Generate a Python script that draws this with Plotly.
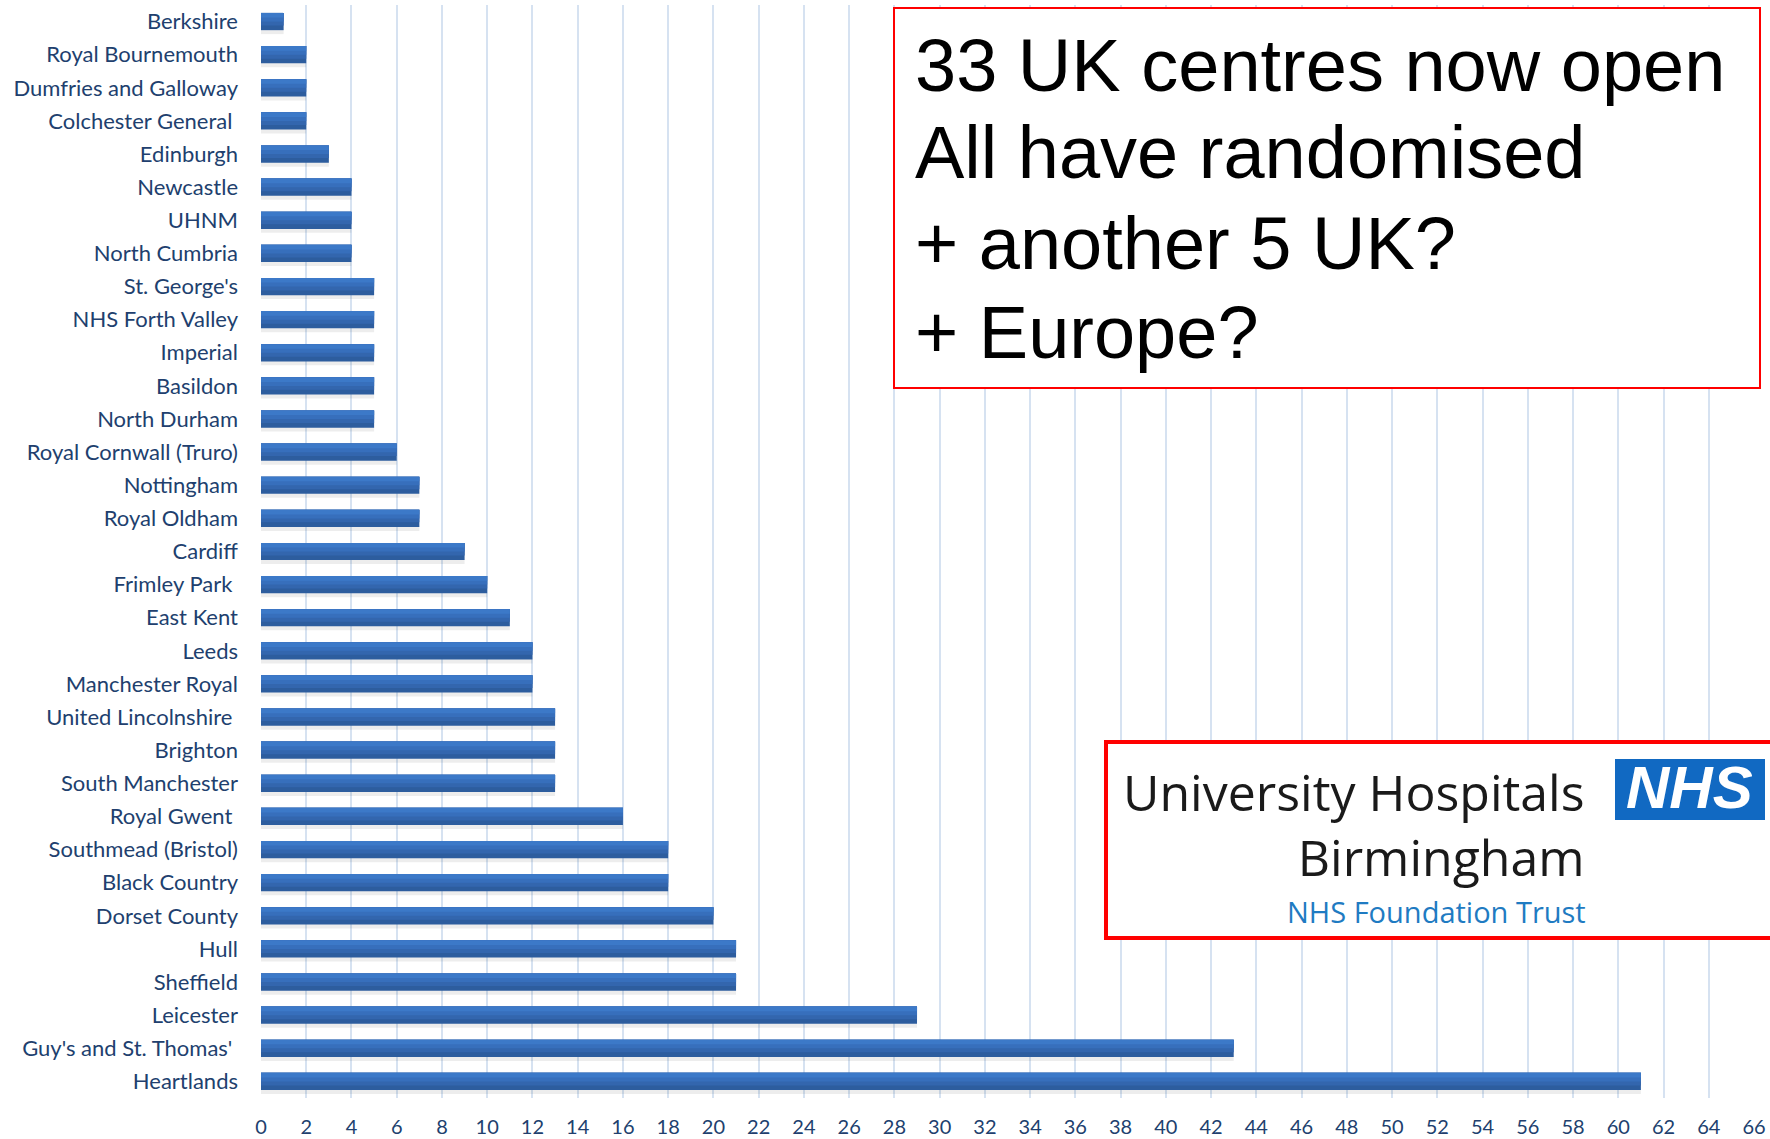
import plotly.graph_objects as go

# ---------------- data ----------------
centres = [
    "Berkshire", "Royal Bournemouth", "Dumfries and Galloway", "Colchester General\u00a0",
    "Edinburgh", "Newcastle", "UHNM", "North Cumbria", "St. George's", "NHS Forth Valley",
    "Imperial", "Basildon", "North Durham", "Royal Cornwall (Truro)", "Nottingham",
    "Royal Oldham", "Cardiff", "Frimley Park\u00a0", "East Kent", "Leeds", "Manchester Royal",
    "United Lincolnshire\u00a0", "Brighton", "South Manchester", "Royal Gwent\u00a0",
    "Southmead (Bristol)", "Black Country", "Dorset County", "Hull", "Sheffield",
    "Leicester", "Guy's and St. Thomas'\u00a0", "Heartlands",
]
randomised = [1, 2, 2, 2, 3, 4, 4, 4, 5, 5, 5, 5, 5, 6, 7, 7, 9, 10, 11, 12, 12,
              13, 13, 13, 16, 18, 18, 20, 21, 21, 29, 43, 61]
x_ticks = list(range(0, 67, 2))

headline_lines = ["33 UK centres now open", "All have randomised",
                  "+ another 5 UK?", "+ Europe?"]
logo_title = ["University Hospitals", "Birmingham"]
logo_sub = "NHS Foundation Trust"
logo_mark = "NHS"

# ---------------- layout helpers ----------------
W, H = 1770, 1139
L, R, T, B = 261, 16, 5, 41


def px(x):
    return (x - L) / (W - L - R)


def py(y):
    return (H - B - y) / (H - T - B)


LABEL_COLOR = "#213F6E"
fig = go.Figure()

# soft shadow under each bar
fig.add_trace(go.Bar(
    x=randomised, y=centres, orientation="h", width=0.14, offset=0.24,
    marker=dict(color="rgba(0,0,0,0.07)", line=dict(width=0)),
    hoverinfo="skip", showlegend=False,
))
# bars drawn in layered bands to mimic the top-lit gradient
bands = [(0.52, "#2D5D9E"), (0.38, "#3366AE"), (0.26, "#376FBC"), (0.14, "#3C79C8")]
for w, c in bands:
    fig.add_trace(go.Bar(
        x=randomised, y=centres, orientation="h",
        width=w, offset=-0.26, marker=dict(color=c, line=dict(width=0)),
        hoverinfo="x+y", showlegend=False,
    ))

fig.update_layout(
    width=W, height=H,
    margin=dict(l=L, r=R, t=T, b=B, pad=0),
    paper_bgcolor="white", plot_bgcolor="white",
    barmode="overlay",
    font=dict(family="Lato", color=LABEL_COLOR),
    xaxis=dict(
        range=[0, 66], tickvals=x_ticks, showgrid=True, automargin=False,
        gridcolor="#D6E2F1", gridwidth=1.5, zeroline=False, showline=False,
        tickfont=dict(size=20, family="Lato", color=LABEL_COLOR),
        ticks="", ticklabelstandoff=15,
    ),
    yaxis=dict(
        categoryorder="array", categoryarray=centres, autorange="reversed",
        showgrid=False, zeroline=False, showline=False, ticks="", automargin=False,
        tickfont=dict(size=22, family="Lato", color=LABEL_COLOR),
        ticklabelstandoff=22,
    ),
)

# red boxes
fig.add_shape(type="rect", xref="paper", yref="paper",
              x0=px(894), x1=px(1760), y0=py(8), y1=py(388),
              line=dict(color="#FF0000", width=2), fillcolor="white", layer="above")
fig.add_shape(type="rect", xref="paper", yref="paper",
              x0=px(1106), x1=px(1800), y0=py(742), y1=py(938),
              line=dict(color="#FF0000", width=4), fillcolor="white", layer="above")
# NHS lozenge
fig.add_shape(type="rect", xref="paper", yref="paper",
              x0=px(1615), x1=px(1765), y0=py(759), y1=py(820),
              line=dict(width=0), fillcolor="#1169C2", layer="above")

ann = []
hs = 74
for line, mid in zip(headline_lines, [65, 153, 243, 332]):
    ann.append(dict(text=line, xref="paper", yref="paper", x=px(914), y=py(mid),
                    xanchor="left", yanchor="middle", showarrow=False, borderpad=0,
                    font=dict(family="Liberation Sans", size=hs, color="black")))

ann.append(dict(text="<br>".join(logo_title), xref="paper", yref="paper",
                x=px(1586), y=py(825), align="right",
                xanchor="right", yanchor="middle", showarrow=False, borderpad=0,
                font=dict(family="Open Sans", size=50, color="#1A1A1A")))
ann.append(dict(text=logo_sub, xref="paper", yref="paper", x=px(1587), y=py(911),
                xanchor="right", yanchor="middle", showarrow=False, borderpad=0,
                font=dict(family="Open Sans", size=29, color="#1F7BC2")))
ann.append(dict(text="<b><i>" + logo_mark + "</i></b>", xref="paper", yref="paper",
                x=px(1689), y=py(788), xanchor="center", yanchor="middle", showarrow=False,
                borderpad=0,
                font=dict(family="Liberation Sans", size=60, color="white")))
fig.update_layout(annotations=ann)

fig.write_html("out.html", config={"displayModeBar": False},
               post_script="document.body.style.margin='0';")
